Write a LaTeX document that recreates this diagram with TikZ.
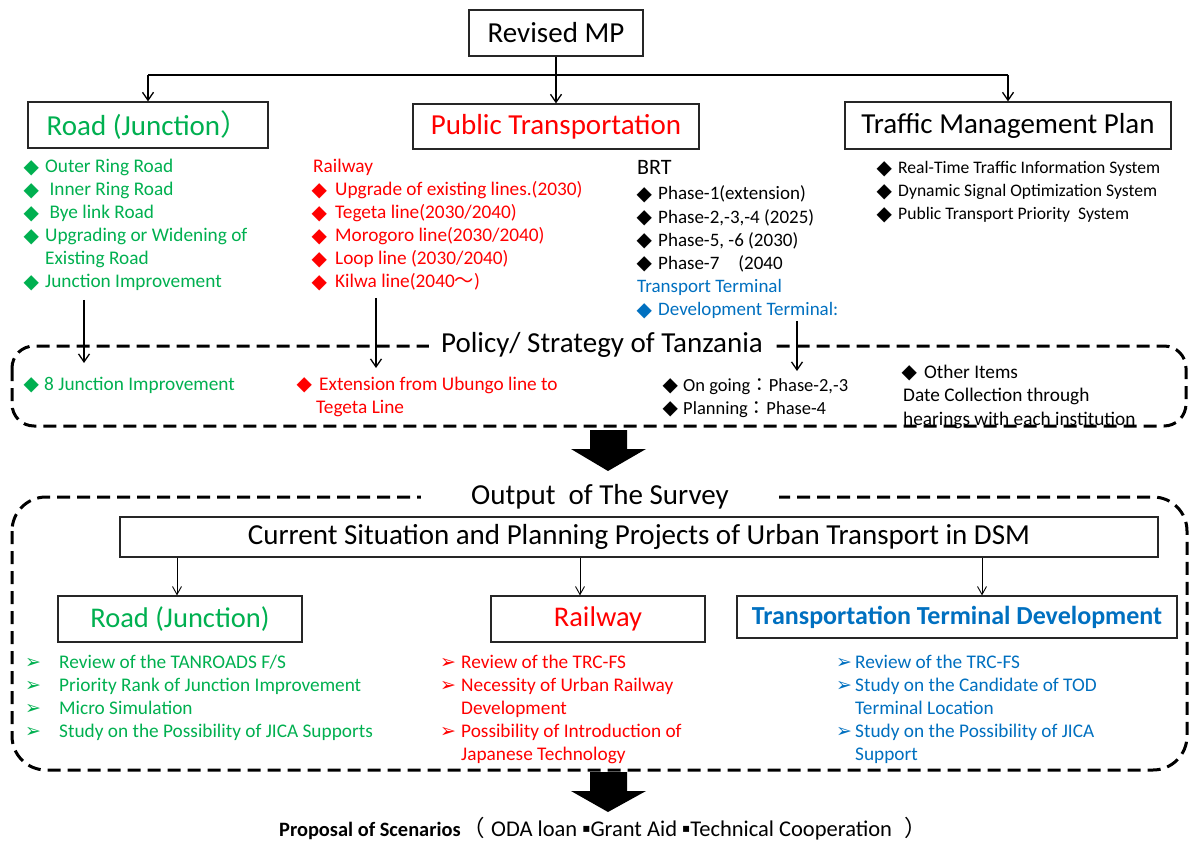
\documentclass[tikz,border=0pt]{standalone}
\usepackage{fontspec}
\setmainfont{Carlito}
\newfontfamily\symfont{DejaVu Sans}
\newfontfamily\cjkfont{Noto Sans CJK JP}
\usetikzlibrary{arrows.meta}
\definecolor{cgreen}{RGB}{0,176,80}
\definecolor{cred}{RGB}{255,0,0}
\definecolor{cblue}{RGB}{0,112,192}
% bullet boxes of a given width
\newcommand\dia[1]{\makebox[#1pt][l]{\hspace*{-1.5pt}\raisebox{-0.3pt}{\symfont\fontsize{20}{20}\selectfont ◆}}}
\newcommand\barbitem[1]{\makebox[#1pt][l]{\symfont\fontsize{19}{19}\selectfont ➢}}
\newcommand\itemrows[1]{\begin{tabular}[t]{@{}l@{}}#1\end{tabular}}
\newcommand\cj[1]{{\cjkfont #1}}
\newcommand\sqdot{\raisebox{3.5pt}{\symfont\fontsize{12}{12}\selectfont ▪}}
\begin{document}
\begin{tikzpicture}[x=1pt,y=-1pt,
  box/.style={draw=black!85,line width=1.2pt,inner sep=0pt,fill=white},
  arr/.style={line width=1.3pt,-{Straight Barb[length=8pt,width=11pt,line width=1.3pt]}},
  thinarr/.style={line width=0.9pt,-{Straight Barb[length=8pt,width=9pt,line width=0.9pt]}},
  dbox/.style={line width=3pt,dash pattern=on 13pt off 7pt},
  lst/.style={anchor=base west,inner sep=0pt,font=\fontsize{19.3}{23}\selectfont},
  pol/.style={anchor=base west,inner sep=0pt,font=\fontsize{19.3}{23.5}\selectfont},
  big/.style={font=\fontsize{29}{31}\selectfont},
]
\useasboundingbox (0,0) rectangle (1194,842);
\fill[white] (0,0) rectangle (1194,842);

% ---------- Revised MP and its three branches ----------
\node[box,big,minimum width=174pt,minimum height=46pt] (mp) at (556,33) {Revised MP};
\node[box,big,text=cgreen,minimum width=240pt,minimum height=46pt] (road) at (148,125) {Road (Junction\cj{）}};
\node[box,big,text=cred,minimum width=286pt,minimum height=45pt] (pt) at (556,126.5) {Public Transportation};
\node[box,big,minimum width=326pt,minimum height=47pt] (tmp) at (1008,125.5) {Traffic Management Plan};

\coordinate (split) at (556,75);
\draw[line width=1.3pt] (mp.south) -- (split);
\draw[line width=2.2pt] (road.north |- split) -- (tmp.north |- split);
\draw[arr] (road.north |- split) -- (road.north);
\draw[arr] (split) -- (pt.north);
\draw[arr] (tmp.north |- split) -- (tmp.north);

% ---------- plan contents ----------
\node[lst,text=cgreen] (roadlist) at (25,173) {\itemrows{%
  \dia{20}Outer Ring Road\\
  \dia{20} Inner Ring Road\\
  \dia{20} Bye link Road\\
  \dia{20}Upgrading or Widening of\\
  \hspace*{20pt}Existing Road\\
  \dia{20}Junction Improvement}};

\node[lst,text=cred] (raillist) at (313,173) {\itemrows{%
  Railway\\
  \dia{22}Upgrade of existing lines.(2030)\\
  \dia{22}Tegeta line(2030/2040)\\
  \dia{22}Morogoro line(2030/2040)\\
  \dia{22}Loop line (2030/2040)\\
  \dia{22}Kilwa line(2040\cj{～})}};

\node[anchor=base west,inner sep=0pt,font=\fontsize{22}{23}\selectfont] (brt) at (637,175) {BRT};
\node[lst,font=\fontsize{19}{23.2}\selectfont] (brtlist) at (638,200) {\itemrows{%
  \dia{20}Phase-1(extension)\\
  \dia{20}Phase-2,-3,-4 (2025)\\
  \dia{20}Phase-5, -6 (2030)\\
  \dia{20}Phase-7\quad(2040\\
  \hspace*{-1pt}\textcolor{cblue}{Transport Terminal}\\
  \textcolor{cblue}{\dia{20}Development Terminal:}}};

\node[lst,font=\fontsize{17.6}{23}\selectfont] (tmplist) at (878,174) {\itemrows{%
  \dia{20}Real-Time Traffic Information System\\
  \dia{20}Dynamic Signal Optimization System\\
  \dia{20}Public Transport Priority\ \ System}};

% ---------- Policy / Strategy of Tanzania ----------
\draw[dbox,rounded corners=22pt] (12,346) rectangle (1186,426);
\node[fill=white,inner xsep=12pt,inner ysep=2pt,big] (poltitle) at (602,345) {Policy/ Strategy of Tanzania};

\node[pol,text=cgreen] (pjunc) at (25,390) {\dia{19}8 Junction Improvement};
\node[pol,text=cred] (pext) at (298,390) {\itemrows{%
  \dia{21}Extension from Ubungo line to\\
  \hspace*{18pt}Tegeta Line}};
\node[pol,font=\fontsize{18.5}{23.5}\selectfont] (pbrt) at (664,391) {\itemrows{%
  \dia{19}On going\cj{：}Phase-2,-3\\
  \dia{19}Planning\cj{：}Phase-4}};
\node[pol] (pother) at (903,378) {\itemrows{%
  \dia{21}Other Items\\
  Date Collection through\\
  hearings with each institution}};

\coordinate (ra1) at (84,300);   \coordinate (ra2) at (84,363);
\coordinate (rb1) at (376,298);  \coordinate (rb2) at (376,368);
\coordinate (rc1) at (797,321);  \coordinate (rc2) at (797,371);
\draw[arr] (ra1) -- (ra2);
\draw[arr] (rb1) -- (rb2);
\draw[arr] (rc1) -- (rc2);

% ---------- block arrow ----------
\fill (590,430) -- (627,430) -- (627,449) -- (646,449) -- (608,471) -- (571,449) -- (590,449) -- cycle;

% ---------- Output of the survey ----------
\draw[dbox,rounded corners=34pt] (12,497) rectangle (1187,770);
\node[fill=white,inner xsep=50pt,inner ysep=2pt,big] (outtitle) at (600,497) {Output\ \ of The Survey};

\node[box,minimum width=1038pt,minimum height=40pt,font=\fontsize{29}{31}\selectfont] (cur) at (639,537)
  {Current Situation and Planning Projects of Urban Transport in DSM};

\node[box,text=cgreen,minimum width=244pt,minimum height=46pt,font=\fontsize{28.5}{30}\selectfont] (road2) at (180,619) {Road (Junction)};
\node[box,text=cred,minimum width=214pt,minimum height=46pt,font=\fontsize{28.5}{30}\selectfont] (rail2) at (598,619) {Railway};
\node[box,text=cblue,minimum width=440pt,minimum height=42pt,font=\bfseries\fontsize{26}{28}\selectfont] (term) at (957,617) {Transportation Terminal Development};

\coordinate (xa) at (177,0); \coordinate (xb) at (580,0); \coordinate (xc) at (982,0);
\draw[thinarr] (cur.south -| xa) -- (road2.north -| xa);
\draw[thinarr] (cur.south -| xb) -- (rail2.north -| xb);
\draw[thinarr] (cur.south -| xc) -- (term.north -| xc);

\node[lst,text=cgreen] (olist1) at (25,668) {\itemrows{%
  \barbitem{34}Review of the TANROADS F/S\\
  \barbitem{34}Priority Rank of Junction Improvement\\
  \barbitem{34}Micro Simulation\\
  \barbitem{34}Study on the Possibility of JICA Supports}};
\node[lst,text=cred] (olist2) at (440,668) {\itemrows{%
  \barbitem{21}Review of the TRC-FS\\
  \barbitem{21}Necessity of Urban Railway\\
  \hspace*{21pt}Development\\
  \barbitem{21}Possibility of Introduction of\\
  \hspace*{21pt}Japanese Technology}};
\node[lst,text=cblue] (olist3) at (836,668) {\itemrows{%
  \barbitem{19}Review of the TRC-FS\\
  \barbitem{19}Study on the Candidate of TOD\\
  \hspace*{19pt}Terminal Location\\
  \barbitem{19}Study on the Possibility of JICA\\
  \hspace*{19pt}Support}};

% ---------- block arrow and proposal ----------
\fill (590,772) -- (627,772) -- (627,791) -- (646,791) -- (608,812) -- (571,791) -- (590,791) -- cycle;
\node[anchor=base west,inner sep=0pt,font=\fontsize{20.4}{22}\selectfont] (proposal) at (279,836)
  {\textbf{Proposal of Scenarios}\hspace{2pt}{\fontsize{22.5}{24}\selectfont\cj{（}\hspace{6pt}ODA loan \sqdot Grant Aid \sqdot Technical Cooperation\hspace{12pt}\cj{）}}};
\end{tikzpicture}
\end{document}
